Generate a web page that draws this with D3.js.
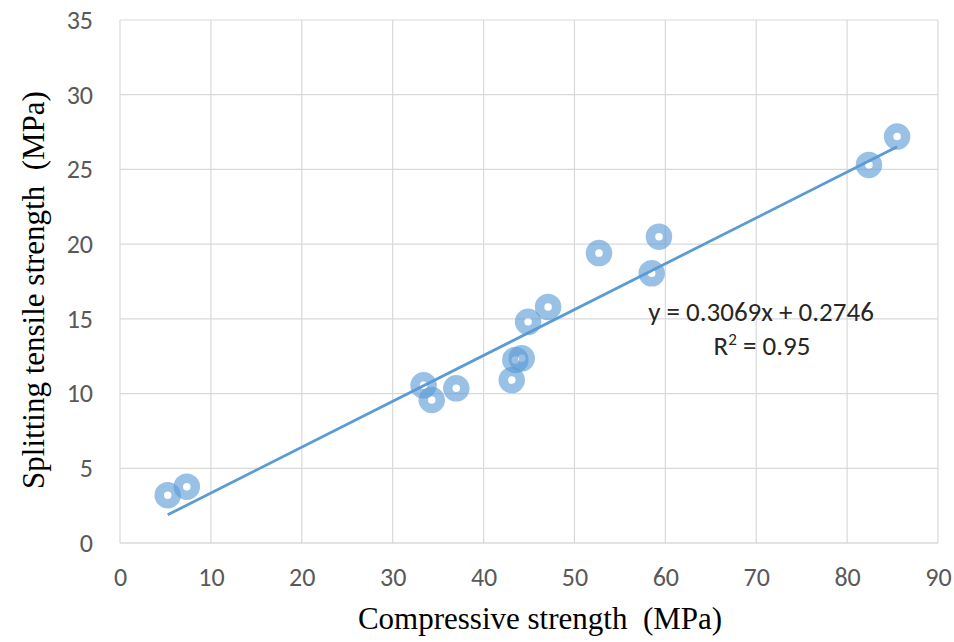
<!DOCTYPE html>
<html>
<head>
<meta charset="utf-8">
<script src="https://cdn.jsdelivr.net/npm/d3@7"></script>
<style>
  body { margin: 0; background: #fff; }
  svg { display: block; }
</style>
</head>
<body>
<div id="chart"></div>
<script>
'use strict'

// Points
const compressive = [5.25, 7.35, 33.4, 34.3, 37.0, 43.1, 43.5, 44.2, 44.9, 47.1, 52.7, 58.5, 59.3, 82.4, 85.5];
const splitting = [3.2, 3.77, 10.55, 9.57, 10.35, 10.9, 12.25, 12.36, 14.8, 15.8, 19.4, 18.05, 20.5, 25.3, 27.2];
const xTicks = [0, 10, 20, 30, 40, 50, 60, 70, 80, 90];
const yTicks = [0, 5, 10, 15, 20, 25, 30, 35];
const slope = 0.3069;
const intercept = 0.2746;

const width = 954;
const height = 642;
const margin = { top: 20, right: 16, bottom: 99, left: 120 };

const svg = d3.select('#chart')
	.append('svg')
	.attr('width', width)
	.attr('height', height);

const x = d3.scaleLinear().domain([0, 90]).range([margin.left, width - margin.right]);
const y = d3.scaleLinear().domain([0, 35]).range([height - margin.bottom, margin.top]);

// Grille
svg.append('g')
	.selectAll('line.gx')
	.data(xTicks)
	.enter()
	.append('line')
		.attr('x1', d => x(d)).attr('x2', d => x(d))
		.attr('y1', y(0)).attr('y2', y(35))
		.style('stroke', '#d9d9d9')
		.style('stroke-width', 1.2);

svg.append('g')
	.selectAll('line.gy')
	.data(yTicks)
	.enter()
	.append('line')
		.attr('x1', x(0)).attr('x2', x(90))
		.attr('y1', d => y(d)).attr('y2', d => y(d))
		.style('stroke', d => d === 0 ? '#c8c8c8' : '#d9d9d9')
		.style('stroke-width', 1.2);

// Axes (labels only)
const xAxis = svg.append('g')
	.attr('transform', `translate(0,${y(0)})`)
	.call(d3.axisBottom(x).tickValues(xTicks).tickSize(0).tickPadding(25));
const yAxis = svg.append('g')
	.attr('transform', `translate(${x(0)},0)`)
	.call(d3.axisLeft(y).tickValues(yTicks).tickSize(0).tickPadding(27));

[xAxis, yAxis].forEach(a => {
	a.select('.domain').remove();
	a.selectAll('text')
		.style('font-family', 'Carlito, "Open Sans", sans-serif')
		.style('font-size', '26px')
		.style('fill', '#595959');
});

// Points
const pts = compressive.map((c, i) => ({ x: c, y: splitting[i] }));
svg.append('g')
	.selectAll('circle')
	.data(pts)
	.enter()
	.append('circle')
		.attr('cx', d => x(d.x))
		.attr('cy', d => y(d.y))
		.attr('r', 8.5)
		.style('fill', 'none')
		.style('stroke', '#5b9bd5')
		.style('stroke-opacity', 0.62)
		.style('stroke-width', 9.5);

// Droite de tendance
const xMin = d3.min(compressive);
const xMax = d3.max(compressive);
svg.append('line')
	.attr('x1', x(xMin)).attr('y1', y(slope * xMin + intercept))
	.attr('x2', x(xMax)).attr('y2', y(slope * xMax + intercept))
	.style('stroke', '#5b9bd5')
	.style('stroke-width', 2.8);

// Equation
svg.append('text')
	.attr('x', 761).attr('y', 321)
	.attr('text-anchor', 'middle')
	.style('font-family', 'Carlito, "Open Sans", sans-serif')
	.style('font-size', '27px')
	.style('fill', '#262626')
	.text('y = 0.3069x + 0.2746');

const r2 = svg.append('text')
	.attr('x', 762).attr('y', 355)
	.attr('text-anchor', 'middle')
	.style('font-family', 'Carlito, "Open Sans", sans-serif')
	.style('font-size', '27px')
	.style('fill', '#262626');
r2.append('tspan').text('R');
r2.append('tspan').attr('dy', -10).style('font-size', '17px').text('2');
r2.append('tspan').attr('dy', 10).text(' = 0.95');

// Titres des axes
svg.append('text')
	.attr('x', 540).attr('y', 629)
	.attr('text-anchor', 'middle')
	.style('font-family', '"Liberation Serif", "Times New Roman", serif')
	.style('font-size', '31px')
	.style('fill', '#000')
	.style('white-space', 'pre')
	.text('Compressive strength  (MPa)');

svg.append('text')
	.attr('transform', 'translate(44,290) rotate(-90)')
	.attr('text-anchor', 'middle')
	.style('font-family', '"Liberation Serif", "Times New Roman", serif')
	.style('font-size', '31px')
	.style('fill', '#000')
	.style('white-space', 'pre')
	.text('Splitting tensile strength  (MPa)');
</script>
</body>
</html>
